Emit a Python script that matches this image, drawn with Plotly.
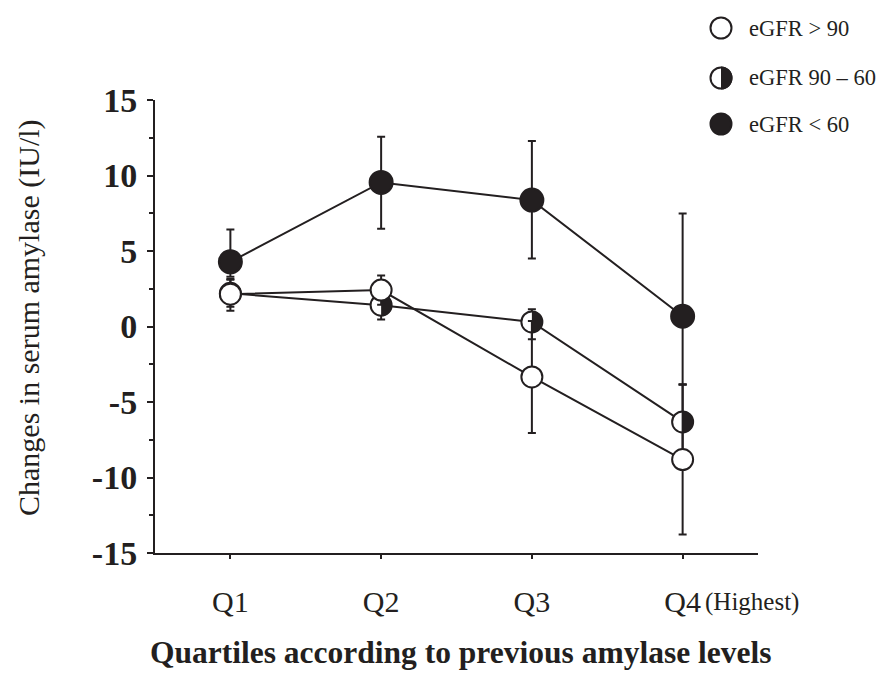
import numpy as np
import plotly.graph_objects as go

# ---- data ----
categories = ["Q1", "Q2", "Q3", "Q4"]
x_pos = [0, 1, 2, 3]

egfr_lt60 = [4.28, 9.54, 8.37, 0.68]
egfr_lt60_plus = [2.15, 3.02, 3.91, 6.81]
egfr_lt60_minus = [0.99, 3.07, 3.86, 4.52]

egfr_mid = [2.2, 1.41, 0.30, -6.32]
egfr_mid_plus = [0.9, 0.95, 0.85, 2.48]
egfr_mid_minus = [0.9, 0.95, 1.14, 2.5]

egfr_gt90 = [2.14, 2.41, -3.34, -8.81]
egfr_gt90_plus = [1.0, 0.97, 3.7, 4.97]
egfr_gt90_minus = [1.1, 0.97, 3.71, 4.97]

legend_labels = ["eGFR > 90", "eGFR 90 – 60", "eGFR < 60"]
y_ticks = [-15, -10, -5, 0, 5, 10, 15]

# ---- style ----
INK = "#231f20"
SERIF = "Liberation Serif, Times New Roman, serif"
OFF = 8  # page body margin
WIDTH, HEIGHT = 887 - OFF, 694 - OFF
ML, MT = 155 - OFF, 100 - OFF
MR, MB = 887 - 758, 694 - 553
PW, PH = WIDTH - ML - MR, HEIGHT - MT - MB
XR = [-0.5, 3.5]
YR = [-15, 15]
px_x = PW / (XR[1] - XR[0])
px_y = PH / (YR[1] - YR[0])
MSIZE = 21
MLINE = 2


def px_to_paper_x(px):
    return (px - OFF - ML) / PW


def px_to_paper_y(py):
    return (HEIGHT - MB - (py - OFF)) / PH


fig = go.Figure()


def err(plus, minus):
    return dict(type="data", symmetric=False, array=plus, arrayminus=minus,
                color=INK, thickness=2, width=4)


# lines first
for ys in (egfr_lt60, egfr_mid, egfr_gt90):
    fig.add_trace(go.Scatter(x=x_pos, y=ys, mode="lines",
                             line=dict(color=INK, width=2), showlegend=False,
                             hoverinfo="skip"))

# filled markers (< 60)
fig.add_trace(go.Scatter(x=x_pos, y=egfr_lt60, mode="markers",
                         marker=dict(size=MSIZE + 2, color=INK, line=dict(color=INK, width=MLINE)),
                         error_y=err(egfr_lt60_plus, egfr_lt60_minus), showlegend=False))

# half-filled markers (90-60): white circle + black right half
fig.add_trace(go.Scatter(x=x_pos, y=egfr_mid, mode="markers",
                         marker=dict(size=MSIZE, color="white", line=dict(color=INK, width=MLINE)),
                         error_y=err(egfr_mid_plus, egfr_mid_minus), showlegend=False))
r_pix = MSIZE / 2 + 0.5
t = np.linspace(-np.pi / 2, np.pi / 2, 31)
hx, hy = [], []
for xc, yc in zip(x_pos, egfr_mid):
    hx += list(xc + (r_pix / px_x) * np.cos(t)) + [None]
    hy += list(yc + (r_pix / px_y) * np.sin(t)) + [None]
fig.add_trace(go.Scatter(x=hx, y=hy, mode="lines", fill="toself", fillcolor=INK,
                         line=dict(width=0, color=INK), showlegend=False, hoverinfo="skip"))

# open markers (> 90)
fig.add_trace(go.Scatter(x=x_pos, y=egfr_gt90, mode="markers",
                         marker=dict(size=MSIZE, color="white", line=dict(color=INK, width=MLINE)),
                         error_y=err(egfr_gt90_plus, egfr_gt90_minus), showlegend=False))

# ---- manual legend ----
shapes = []
annotations = []
leg_y_px = [28, 78, 124]
leg_x_px = 721
for i, (lab, ypx) in enumerate(zip(legend_labels, leg_y_px)):
    xa = px_to_paper_x(leg_x_px)
    ya = px_to_paper_y(ypx)
    r = 10.5
    fillc = INK if i == 2 else "white"
    shapes.append(dict(type="circle", xref="paper", yref="paper", xsizemode="pixel",
                       ysizemode="pixel", xanchor=xa, yanchor=ya, x0=-r, x1=r, y0=-r, y1=r,
                       fillcolor=fillc, line=dict(color=INK, width=2), layer="above"))
    if i == 1:
        R = r + 1
        k = 0.5523 * R
        path = f"M 0,{-R} C {k},{-R} {R},{-k} {R},0 C {R},{k} {k},{R} 0,{R} Z"
        shapes.append(dict(type="path", xref="paper", yref="paper", xsizemode="pixel",
                           ysizemode="pixel", xanchor=xa, yanchor=ya, path=path,
                           fillcolor=INK, line=dict(color=INK, width=0), layer="above"))
    annotations.append(dict(text=lab, xref="paper", yref="paper",
                            x=px_to_paper_x(747), y=ya, xanchor="left", yanchor="middle",
                            showarrow=False, font=dict(family=SERIF, size=22.5, color=INK)))

annotations.append(dict(text="(Highest)", xref="x", yref="paper", x=3,
                        y=px_to_paper_y(602), xanchor="left", yanchor="middle",
                        xshift=20, showarrow=False, font=dict(family=SERIF, size=25, color=INK)))

# axis titles
annotations.append(dict(text="<b>Quartiles according to previous amylase levels</b>",
                        xref="paper", yref="paper", x=px_to_paper_x(460), y=px_to_paper_y(652),
                        xanchor="center", yanchor="middle", showarrow=False,
                        font=dict(family=SERIF, size=31.5, color=INK)))
annotations.append(dict(text="Changes in serum amylase (IU/l)",
                        xref="paper", yref="paper", x=px_to_paper_x(29), y=px_to_paper_y(318),
                        xanchor="center", yanchor="middle", textangle=-90, showarrow=False,
                        font=dict(family=SERIF, size=30, color=INK)))

fig.update_layout(
    width=WIDTH, height=HEIGHT,
    margin=dict(l=ML, r=MR, t=MT, b=MB),
    paper_bgcolor="white", plot_bgcolor="white",
    showlegend=False,
    shapes=shapes, annotations=annotations,
    font=dict(family=SERIF, color=INK),
)
fig.update_xaxes(range=XR, tickvals=x_pos, ticktext=categories, automargin=False,
                 showgrid=False, zeroline=False, showline=True, linecolor=INK, linewidth=2,
                 ticks="outside", ticklen=4, tickwidth=1.5, tickcolor=INK,
                 tickfont=dict(family=SERIF, size=30, color=INK), ticklabelstandoff=17)
fig.update_yaxes(range=YR, tickvals=y_ticks, ticktext=[f"<b>{v}</b>" for v in y_ticks],
                 automargin=False,
                 showgrid=False, zeroline=False, showline=True, linecolor=INK, linewidth=2,
                 ticks="outside", ticklen=6, tickwidth=2, tickcolor=INK,
                 minor=dict(tickvals=[-12.5, -7.5, -2.5, 2.5, 7.5, 12.5], ticks="outside",
                            ticklen=4, tickwidth=1.5, tickcolor=INK),
                 tickfont=dict(family=SERIF, size=34, color=INK), ticklabelstandoff=3)

fig.write_html("out.html")
